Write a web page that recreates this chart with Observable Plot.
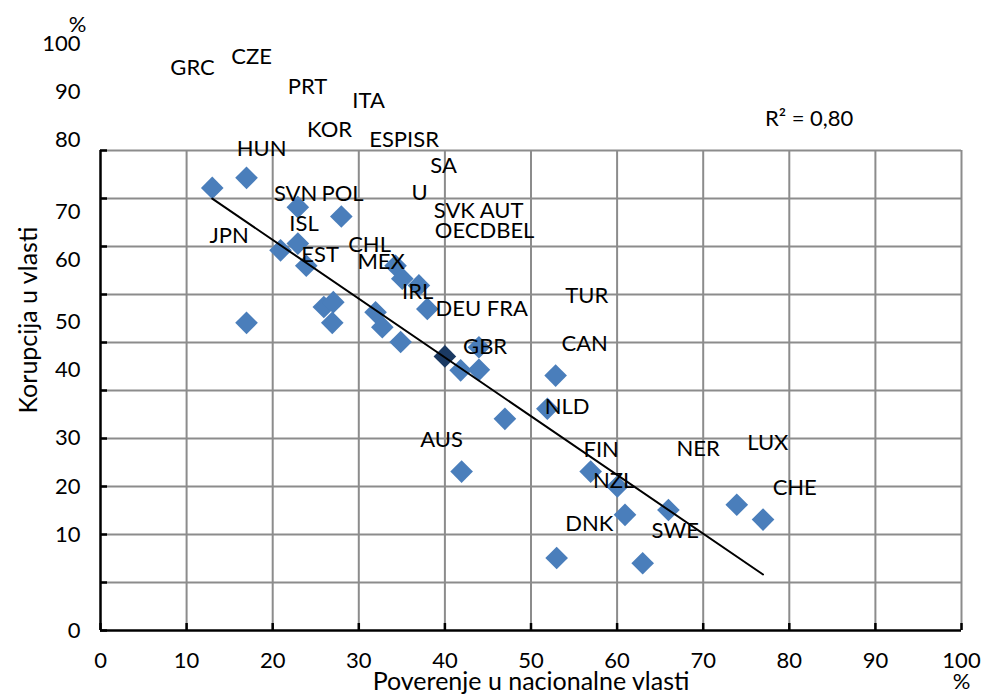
<!DOCTYPE html>
<html>
<head>
<meta charset="utf-8">
<script src="https://cdn.jsdelivr.net/npm/d3@7"></script>
<script src="https://cdn.jsdelivr.net/npm/@observablehq/plot@0.6"></script>
<style>
  html, body { margin: 0; padding: 0; background: #fff; }
</style>
</head>
<body>
<div id="chart"></div>
<script>
// Country points: trust in national government (x, %) vs perceived corruption (y, %)
const trustX = [12.98, 16.96, 22.92, 27.97, 20.91, 22.92, 23.9, 16.96, 25.94, 27.04, 26.92,
  34.27, 35.05, 36.98, 37.96, 31.95, 32.73, 34.86, 41.83, 43.95, 43.95, 52.86, 51.9,
  46.97, 41.94, 56.93, 60.03, 60.92, 65.96, 73.9, 76.95, 52.98, 62.97];
const corruptionY = [92.2, 94.3, 88.2, 86.25, 79.2, 80.6, 76.0, 64.1, 67.4, 68.4, 64.1,
  76.0, 73.3, 71.9, 67.0, 66.3, 63.2, 60.1, 54.2, 54.3, 59.0, 53.1, 46.2,
  44.1, 33.1, 33.1, 30.0, 24.1, 25.1, 26.2, 23.1, 15.1, 14.0];

// OECD average
const oecdAvgX = [40.0];
const oecdAvgY = [57.1];

// Country code labels (as placed in the picture)
const labelText = ["GRC", "CZE", "PRT", "ITA", "KOR", "ESPISR", "HUN", "SA", "U", "SVN", "POL",
  "SVK AUT", "OECDBEL", "ISL", "JPN", "CHL", "EST", "MEX", "IRL", "DEU FRA", "TUR", "GBR",
  "CAN", "NLD", "AUS", "FIN", "NER", "LUX", "NZL", "CHE", "DNK", "SWE"];
const labelX = [10.69, 17.54, 24.05, 31.14, 26.61, 35.26, 18.71, 39.85, 37.06, 22.66, 28.12,
  43.92, 44.61, 23.64, 14.93, 31.25, 25.5, 32.59, 36.83, 44.27, 56.47, 44.67,
  56.23, 54.2, 39.62, 58.15, 69.42, 77.5, 59.6, 80.63, 56.76, 66.75];
const labelY = [117.3, 119.4, 113.3, 110.3, 104.2, 102.3, 100.4, 96.7, 91.25, 91.0, 91.0,
  87.5, 83.3, 84.6, 82.3, 80.4, 78.3, 76.7, 70.5, 66.9, 69.8, 59.0,
  59.6, 46.5, 39.6, 37.7, 37.9, 39.0, 31.25, 29.6, 22.1, 20.8];

// Axes
const xTicks = [0, 10, 20, 30, 40, 50, 60, 70, 80, 90, 100];
const yGrid = [0, 10, 20, 30, 40, 50, 60, 70, 80, 90, 100];
const yTickLabels = ["0", "10", "20", "30", "40", "50", "60", "70", "80", "90", "100"];
const yTickLabelAt = [0, 20, 30, 40.2, 54.2, 64.2, 77.1, 87.1, 102.1, 112.1, 122.3];
const yUnitLabel = ["%"];
const yUnitAt = [126.2];

const r2Label = ["R² = 0,80"];
const r2X = [82.3];
const r2Y = [106.5];

const xTitle = "Poverenje u nacionalne vlasti";
const yTitle = "Korupcija u vlasti";

const points = trustX.map((x, i) => ({x, y: corruptionY[i]}));
const allPoints = points.concat(oecdAvgX.map((x, i) => ({x, y: oecdAvgY[i]})));
const avgPoints = oecdAvgX.map((x, i) => ({x, y: oecdAvgY[i]}));
const labels = labelText.map((t, i) => ({t, x: labelX[i], y: labelY[i]}));
const yLabels = yTickLabels.map((t, i) => ({t, y: yTickLabelAt[i]}));

const W = 982, H = 695, mL = 100, mR = 21, mT = 150, mB = 65;
const frameW = W - mL - mR, frameH = H - mT - mB, tickLen = 7;

const gridColor = "#8c8c8c";
const blue = "#4a7ebb";
const dark = "#1b3a63";

const chart = Plot.plot({
  width: W,
  height: H,
  marginLeft: mL,
  marginRight: mR,
  marginTop: mT,
  marginBottom: mB,
  style: { fontFamily: "Lato, 'Open Sans', sans-serif", fontSize: "22px", background: "#fff", color: "#000", overflow: "visible" },
  x: { domain: [0, 100], axis: null },
  y: { domain: [0, 100], axis: null },
  marks: [
    // grid
    Plot.ruleX(xTicks.slice(1), { y1: 0, y2: 100, stroke: gridColor, strokeWidth: 2 }),
    Plot.ruleY(yGrid.slice(1), { x1: 0, x2: 100, stroke: gridColor, strokeWidth: 2 }),
    // inward tick marks
    Plot.tickY(yGrid, { y: d => d, insetRight: frameW - tickLen, stroke: "#000", strokeWidth: 2.5 }),
    Plot.tickX(xTicks, { x: d => d, insetTop: frameH - tickLen, stroke: "#000", strokeWidth: 2.5 }),
    // axis lines
    Plot.ruleX([0], { y1: 0, y2: 100, stroke: "#000", strokeWidth: 2.5 }),
    Plot.ruleY([0], { x1: 0, x2: 100, stroke: "#000", strokeWidth: 2.5 }),
    // x tick labels
    Plot.axisX({ ticks: xTicks, tickSize: 0, tickPadding: 22, fontSize: 22, label: null }),
    // y tick labels as placed in the picture
    Plot.text(yLabels, { x: 0, y: "y", text: "t", dx: -20, textAnchor: "end", fontSize: 22, fill: "#000" }),
    Plot.text(yUnitLabel, { x: 0, y: yUnitAt, text: d => d, dx: -14, textAnchor: "end", fontSize: 22, fill: "#000" }),
    // axis titles
    Plot.text([xTitle], { frameAnchor: "bottom", dy: 59, text: d => d, fontSize: 25, fill: "#000" }),
    Plot.text(["%"], { x: 100, frameAnchor: "bottom", dy: 58, text: d => d, fontSize: 22, fill: "#000" }),
    Plot.text([yTitle], { frameAnchor: "left", dx: -72, dy: 23, rotate: -90, text: d => d, fontSize: 25, fill: "#000" }),
    // points
    Plot.dot(points, { x: "x", y: "y", symbol: "diamond2", r: 10.2, fill: blue, stroke: null }),
    Plot.dot(avgPoints, { x: "x", y: "y", symbol: "diamond2", r: 10.2, fill: dark, stroke: null }),
    // trend line
    Plot.linearRegressionY(allPoints, { x: "x", y: "y", ci: 0, stroke: "#000", strokeWidth: 2 }),
    // labels
    Plot.text(labels, { x: "x", y: "y", text: "t", fontSize: 22, fill: "#000" }),
    Plot.text(r2Label, { x: r2X, y: r2Y, text: d => d, fontSize: 22, fill: "#000" })
  ]
});

document.getElementById("chart").appendChild(chart);
</script>
</body>
</html>
